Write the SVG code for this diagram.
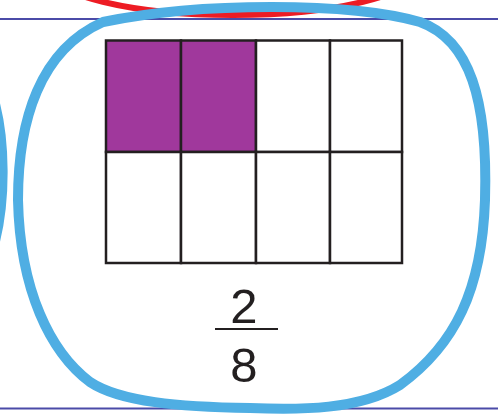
<svg xmlns="http://www.w3.org/2000/svg" width="504" height="415" viewBox="0 0 504 415">
<style>
.rule{stroke:#4B4BA8;stroke-width:2;fill:none}
.cell{stroke:#231F20;stroke-width:2.5;fill:#ffffff}
.shade{fill:#A0389C}
.num{font-family:"Liberation Sans",Arial,sans-serif;font-size:49px;fill:#231F20;text-anchor:middle}
.loop{fill:none;stroke:#4FAEE3;stroke-width:10;stroke-linejoin:round;stroke-linecap:round}
</style>
<rect width="504" height="415" fill="#ffffff"/>
<g id="rules">
<line class="rule" x1="0" y1="19" x2="498" y2="19"/>
<line class="rule" x1="0" y1="408.5" x2="498" y2="408.5"/>
</g>
<ellipse id="red-ring" cx="233" cy="-30" rx="184" ry="45" fill="none" stroke="#ED1C24" stroke-width="6"/>
<g id="grid">
<rect class="cell shade" x="106" y="40.5" width="75" height="111.5"/>
<rect class="cell shade" x="181" y="40.5" width="75" height="111.5"/>
<rect class="cell" x="256" y="40.5" width="74" height="111.5"/>
<rect class="cell" x="330" y="40.5" width="72" height="111.5"/>
<rect class="cell" x="106" y="152" width="75" height="111"/>
<rect class="cell" x="181" y="152" width="75" height="111"/>
<rect class="cell" x="256" y="152" width="74" height="111"/>
<rect class="cell" x="330" y="152" width="72" height="111"/>
</g>
<g id="fraction">
<text class="num" x="244" y="323">2</text>
<line x1="215" y1="329" x2="278" y2="329" stroke="#231F20" stroke-width="2.2"/>
<text class="num" x="244" y="382">8</text>
</g>
<path id="left-arc" class="loop" d="M -6 100 C 5 140, 6 200, -6 245"/>
<path id="blue-loop" class="loop" d="M 103 22 C 200 2, 350 2, 420 22 C 470 40, 488 100, 485 200 C 482 290, 455 345, 400 385 C 360 410, 300 410, 250 408 C 180 407, 120 402, 90 382 C 50 352, 20 290, 18 200 C 18 120, 40 50, 103 22 Z"/>
</svg>
